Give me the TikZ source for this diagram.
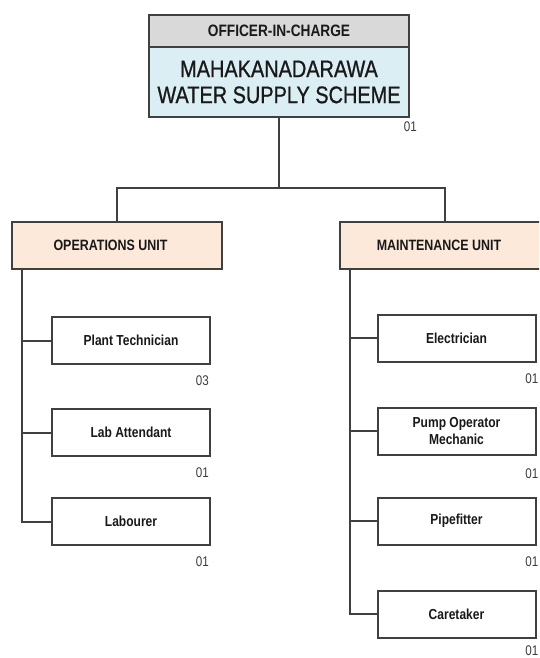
\documentclass[tikz,border=0pt]{standalone}
\usepackage{fontspec}
\setmainfont{Liberation Sans}[FakeStretch=0.83]
\newfontfamily\schemefont{Liberation Sans}[FakeStretch=0.83, FakeBold=0.8]
\usetikzlibrary{positioning}

\definecolor{linegray}{HTML}{404040}
\definecolor{headgray}{HTML}{D9D9D9}
\definecolor{schemeblue}{HTML}{DAEEF3}
\definecolor{unitpeach}{HTML}{FDE9D9}
\definecolor{staffgray}{HTML}{3C3C3C}

\begin{document}
\begin{tikzpicture}[
        x=1pt, y=-1pt,
        box/.style={rectangle, draw=linegray, line width=2pt, text=black!90, align=center, inner sep=0pt},
        headbox/.style={box, fill=headgray, minimum width=260pt, minimum height=32pt, font=\bfseries\fontsize{16.5}{19}\selectfont},
        schemebox/.style={box, fill=schemeblue, minimum width=260pt, minimum height=70pt, font=\schemefont\fontsize{24}{26}\selectfont},
        unitbox/.style={box, fill=unitpeach, minimum width=210pt, minimum height=47pt, font=\bfseries\fontsize{15}{18}\selectfont},
        jobbox/.style={box, fill=white, minimum width=158pt, minimum height=47pt, font=\bfseries\fontsize{14.5}{17}\selectfont},
        staffno/.style={anchor=east, text=staffgray, inner sep=0pt, font=\fontsize{14}{17}\selectfont},
        link/.style={draw=linegray, line width=2pt}
    ]
        \useasboundingbox (0,0) rectangle (539,658);
        \clip (0,0) rectangle (539,658);

        % Officer in charge
        \node[headbox] (head) at (279,31) {OFFICER-IN-CHARGE};
        \node[schemebox, below=-2pt of head] (scheme) {MAHAKANADARAWA\\WATER SUPPLY SCHEME};
        \node[staffno] (schemeno) at ([xshift=7pt,yshift=-9pt]scheme.south east) {01};

        % Units
        \node[unitbox] (ops) at (116.5,245.5) {\hspace*{-12pt}OPERATIONS UNIT};
        \node[unitbox] (maint) at (445,245.5) {\hspace*{-12pt}MAINTENANCE UNIT};

        \coordinate (fork) at ([yshift=-70pt]scheme.south);
        \draw[link] (scheme.south) -- (fork);
        \draw[link] (ops.north) |- (fork) -| (maint.north);

        % Operations staff
        \node[jobbox] (plant) at (131,340.5) {Plant Technician};
        \node[jobbox, below=43pt of plant] (lab) {Lab Attendant};
        \node[jobbox, below=40pt of lab] (labourer) {Labourer};

        \node[staffno] (plantno) at ([xshift=-2pt,yshift=-16pt]plant.south east) {03};
        \node[staffno] (labno) at ([xshift=-2pt,yshift=-16pt]lab.south east) {01};
        \node[staffno] (labourerno) at ([xshift=-2pt,yshift=-16pt]labourer.south east) {01};

        \coordinate (opsspine) at ([xshift=11pt]ops.south west);
        \draw[link] (opsspine) |- (plant.west);
        \draw[link] (opsspine) |- (lab.west);
        \draw[link] (opsspine) |- (labourer.west);

        % Maintenance staff
        \node[jobbox] (elec) at (456.5,338) {Electrician};
        \node[jobbox, below=44pt of elec] (pump) {Pump Operator\\Mechanic};
        \node[jobbox, below=41pt of pump] (pipe) {Pipefitter};
        \node[jobbox, below=44pt of pipe] (care) {Caretaker};

        \node[staffno] (elecno) at ([xshift=2pt,yshift=-16pt]elec.south east) {01};
        \node[staffno] (pumpno) at ([xshift=2pt,yshift=-18pt]pump.south east) {01};
        \node[staffno] (pipeno) at ([xshift=2pt,yshift=-16pt]pipe.south east) {01};
        \node[staffno] (careno) at ([xshift=2pt,yshift=-12pt]care.south east) {01};

        \coordinate (maintspine) at ([xshift=11pt]maint.south west);
        \draw[link] (maintspine) |- (elec.west);
        \draw[link] (maintspine) |- (pump.west);
        \draw[link] (maintspine) |- (pipe.west);
        \draw[link] (maintspine) |- (care.west);
    \end{tikzpicture}
\end{document}
